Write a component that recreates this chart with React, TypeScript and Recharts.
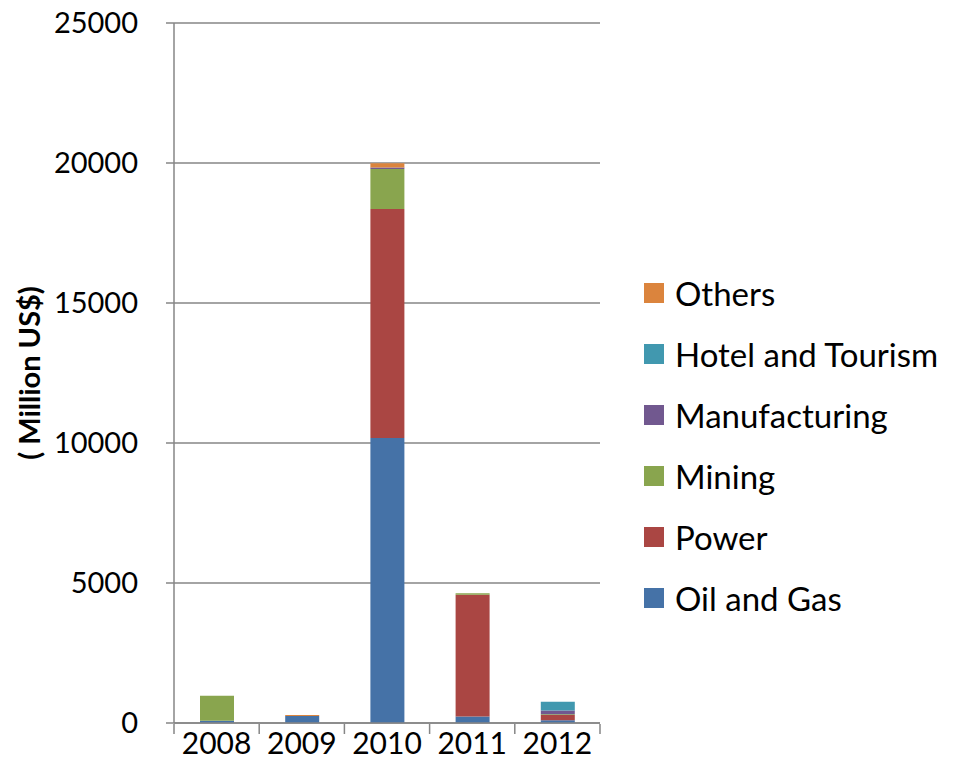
import React from 'react';
import { BarChart, Bar, XAxis, YAxis, CartesianGrid } from 'recharts';

const years = ['2008', '2009', '2010', '2011', '2012'];
const oilAndGas = [80, 250, 10180, 230, 100];
const power = [0, 0, 8180, 4350, 190];
const mining = [890, 0, 1430, 50, 20];
const manufacturing = [0, 0, 50, 0, 140];
const hotelAndTourism = [0, 0, 0, 0, 310];
const others = [0, 40, 150, 0, 0];
const yTicks = [0, 5000, 10000, 15000, 20000, 25000];
const boundaryTicks = [0, 1, 2, 3, 4, 5];

const series = [
  { key: 'oil', name: 'Oil and Gas', color: '#4572A7', values: oilAndGas },
  { key: 'power', name: 'Power', color: '#AA4643', values: power },
  { key: 'mining', name: 'Mining', color: '#89A54E', values: mining },
  { key: 'manufacturing', name: 'Manufacturing', color: '#71588F', values: manufacturing },
  { key: 'hotel', name: 'Hotel and Tourism', color: '#4198AF', values: hotelAndTourism },
  { key: 'others', name: 'Others', color: '#DB843D', values: others },
];

const data = years.map((year, i) => {
  const row: Record<string, string | number> = { year, pos: i + 0.5 };
  series.forEach((s) => {
    row[s.key] = s.values[i];
  });
  return row;
});

const font = 'Lato, "DejaVu Sans", sans-serif';
const gray = '#868686';

export default function App() {
  return (
    <div style={{ position: 'absolute', left: 0, top: 0, width: 958, height: 776, background: '#fff', fontFamily: font }}>
      <BarChart
        width={958}
        height={776}
        data={data}
        margin={{ top: 23, right: 358, bottom: 51, left: 0 }}
        barSize={34}
      >
        <CartesianGrid vertical={false} stroke={gray} strokeWidth={1.5} />
        <XAxis
          dataKey="year"
          tickLine={false}
          tickSize={0}
          tickMargin={10}
          axisLine={{ stroke: gray, strokeWidth: 1.5 }}
          tick={{ fill: '#000', fontSize: 30, fontFamily: font }}
          height={1}
        />
        <XAxis
          xAxisId="bounds"
          dataKey="pos"
          type="number"
          domain={[0, 5]}
          ticks={boundaryTicks}
          interval={0}
          tick={() => <g />}
          tickSize={10}
          axisLine={false}
          tickLine={{ stroke: gray, strokeWidth: 1.5 }}
          height={1}
        />
        <YAxis
          domain={[0, 25000]}
          ticks={yTicks}
          width={174}
          tickSize={8}
          tickMargin={28}
          stroke={gray}
          strokeWidth={1.5}
          tick={{ fill: '#000', fontSize: 29, fontFamily: font }}
          label={{
            value: '( Million US$)',
            angle: -90,
            position: 'center',
            dx: -57,
            style: { fontSize: 29, fontWeight: 700, fill: '#000', fontFamily: font },
          }}
        />
        {series.map((s) => (
          <Bar key={s.key} dataKey={s.key} name={s.name} stackId="a" fill={s.color} isAnimationActive={false} />
        ))}
      </BarChart>
      <div style={{ position: 'absolute', left: 644, top: 262 }}>
        {[...series].reverse().map((s) => (
          <div key={s.key} style={{ display: 'flex', alignItems: 'center', height: 61 }}>
            <div style={{ width: 20, height: 20, background: s.color, marginRight: 11 }} />
            <span style={{ fontSize: 33, color: '#000', whiteSpace: 'nowrap' }}>{s.name}</span>
          </div>
        ))}
      </div>
    </div>
  );
}
